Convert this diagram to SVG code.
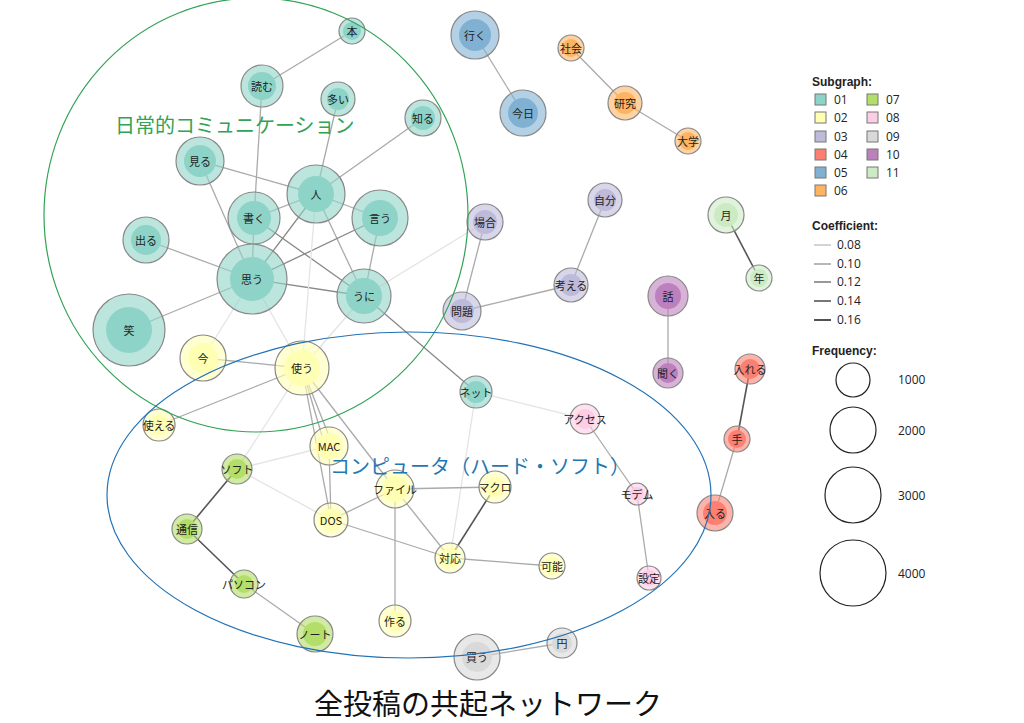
<svg xmlns="http://www.w3.org/2000/svg" width="1024" height="723" viewBox="0 0 1024 723">
<style>
text{font-family:"Noto Sans CJK JP","Liberation Sans",sans-serif;fill:#222}
.n text{font-size:11px;text-anchor:middle;dominant-baseline:central}
.o{stroke:#888;stroke-width:1.2;fill-opacity:.6}
.i{stroke:none}
.c1{fill:#8dd3c7}.c2{fill:#ffffb3}.c3{fill:#bebada}.c4{fill:#fb8072}.c5{fill:#80b1d3}.c6{fill:#fdb462}.c7{fill:#b3de69}.c8{fill:#fccde5}.c9{fill:#d9d9d9}.c10{fill:#bc80bd}.c11{fill:#ccebc5}
#edges line{stroke:#aaa;stroke-width:1.3}
#edges .f{stroke:#e4e4e4}
#edges .d{stroke:#555;stroke-width:1.6}
#edges .m{stroke:#888}
.leg{font-family:"Open Sans","Liberation Sans",sans-serif;font-size:12px}
.lh{font-family:"Liberation Sans",sans-serif;font-size:12px;font-weight:bold}
.sq{stroke:#777;stroke-width:1}
</style>
<rect width="1024" height="723" fill="#fff"/>
<g id="edges">
<line x1="352" y1="31" x2="262" y2="86"/>
<line x1="262" y1="86" x2="254" y2="218"/>
<line x1="338" y1="99" x2="316" y2="194"/>
<line x1="423" y1="118" x2="316" y2="194"/>
<line x1="200" y1="161" x2="316" y2="194"/>
<line x1="200" y1="161" x2="252" y2="279"/>
<line x1="316" y1="194" x2="254" y2="218"/>
<line x1="316" y1="194" x2="380" y2="218"/>
<line class="m" x1="316" y1="194" x2="252" y2="279"/>
<line x1="316" y1="194" x2="364" y2="296"/>
<line class="m" x1="380" y1="218" x2="252" y2="279"/>
<line x1="380" y1="218" x2="364" y2="296"/>
<line x1="254" y1="218" x2="252" y2="279"/>
<line class="m" x1="254" y1="218" x2="364" y2="296"/>
<line x1="146" y1="240" x2="252" y2="279"/>
<line class="m" x1="252" y1="279" x2="364" y2="296"/>
<line x1="129" y1="330" x2="252" y2="279"/>
<line class="f" x1="252" y1="279" x2="203" y2="358"/>
<line class="f" x1="252" y1="279" x2="302" y2="368"/>
<line class="f" x1="316" y1="194" x2="302" y2="368"/>
<line class="f" x1="364" y1="296" x2="302" y2="368"/>
<line class="f" x1="364" y1="296" x2="485" y2="222"/>
<line x1="203" y1="358" x2="302" y2="368"/>
<line x1="302" y1="368" x2="159" y2="425"/>
<line x1="302" y1="368" x2="325" y2="446"/>
<line x1="302" y1="368" x2="333" y2="446"/>
<line x1="302" y1="368" x2="331" y2="520"/>
<line x1="302" y1="368" x2="395" y2="489"/>
<line class="f" x1="302" y1="368" x2="237" y2="469"/>
<line class="m" x1="364" y1="296" x2="476" y2="392"/>
<line class="f" x1="476" y1="392" x2="585" y2="419"/>
<line class="f" x1="476" y1="392" x2="450" y2="558"/>
<line x1="329" y1="446" x2="331" y2="520"/>
<line class="f" x1="329" y1="446" x2="237" y2="469"/>
<line class="f" x1="237" y1="469" x2="331" y2="520"/>
<line class="d" x1="237" y1="469" x2="187" y2="529"/>
<line class="d" x1="187" y1="529" x2="244" y2="584"/>
<line x1="244" y1="584" x2="315" y2="634"/>
<line x1="331" y1="520" x2="395" y2="489"/>
<line x1="331" y1="520" x2="450" y2="558"/>
<line x1="395" y1="489" x2="495" y2="487"/>
<line x1="395" y1="489" x2="450" y2="558"/>
<line x1="395" y1="489" x2="395" y2="621"/>
<line class="d" x1="495" y1="487" x2="450" y2="558"/>
<line x1="450" y1="558" x2="552" y2="566"/>
<line x1="585" y1="419" x2="637" y2="494"/>
<line x1="637" y1="494" x2="649" y2="578"/>
<line x1="477" y1="657" x2="562" y2="643"/>
<line x1="475" y1="35" x2="523" y2="113"/>
<line x1="571" y1="48" x2="625" y2="103"/>
<line x1="625" y1="103" x2="688" y2="141"/>
<line x1="485" y1="222" x2="462" y2="311"/>
<line x1="605" y1="200" x2="571" y2="285"/>
<line x1="571" y1="285" x2="462" y2="311"/>
<line x1="668" y1="296" x2="668" y2="373"/>
<line class="d" x1="750" y1="369" x2="737" y2="439"/>
<line x1="737" y1="439" x2="715" y2="513"/>
<line class="d" x1="726" y1="215" x2="759" y2="278"/>
</g>
<g id="nodes" class="n">
<g id="n-hon"><circle class="o c1" cx="352" cy="31" r="13"/><circle class="i c1" cx="352" cy="31" r="9"/><text x="352" y="31">本</text></g>
<g id="n-yomu"><circle class="o c1" cx="262" cy="86" r="21"/><circle class="i c1" cx="262" cy="86" r="14"/><text x="262" y="86">読む</text></g>
<g id="n-ooi"><circle class="o c1" cx="338" cy="99" r="17"/><circle class="i c1" cx="338" cy="99" r="11"/><text x="338" y="99">多い</text></g>
<g id="n-shiru"><circle class="o c1" cx="423" cy="118" r="18"/><circle class="i c1" cx="423" cy="118" r="12"/><text x="423" y="118">知る</text></g>
<g id="n-miru"><circle class="o c1" cx="200" cy="161" r="24"/><circle class="i c1" cx="200" cy="161" r="16"/><text x="200" y="161">見る</text></g>
<g id="n-hito"><circle class="o c1" cx="316" cy="194" r="29"/><circle class="i c1" cx="316" cy="194" r="18"/><text x="316" y="194">人</text></g>
<g id="n-kaku"><circle class="o c1" cx="254" cy="218" r="26"/><circle class="i c1" cx="254" cy="218" r="17"/><text x="254" y="218">書く</text></g>
<g id="n-iu"><circle class="o c1" cx="380" cy="218" r="28"/><circle class="i c1" cx="380" cy="218" r="18"/><text x="380" y="218">言う</text></g>
<g id="n-deru"><circle class="o c1" cx="146" cy="240" r="23"/><circle class="i c1" cx="146" cy="240" r="15"/><text x="146" y="240">出る</text></g>
<g id="n-omou"><circle class="o c1" cx="252" cy="279" r="35"/><circle class="i c1" cx="252" cy="279" r="22"/><text x="252" y="279">思う</text></g>
<g id="n-uni"><circle class="o c1" cx="364" cy="296" r="27"/><circle class="i c1" cx="364" cy="296" r="18"/><text x="364" y="296">うに</text></g>
<g id="n-warai"><circle class="o c1" cx="129" cy="330" r="36"/><circle class="i c1" cx="129" cy="330" r="23"/><text x="129" y="330">笑</text></g>
<g id="n-net"><circle class="o c1" cx="476" cy="392" r="16"/><circle class="i c1" cx="476" cy="392" r="11"/><text x="476" y="392">ネット</text></g>
<g id="n-ima"><circle class="o c2" cx="203" cy="358" r="23"/><circle class="i c2" cx="203" cy="358" r="15"/><text x="203" y="358">今</text></g>
<g id="n-tsukau"><circle class="o c2" cx="302" cy="368" r="27"/><circle class="i c2" cx="302" cy="368" r="18"/><text x="302" y="368">使う</text></g>
<g id="n-tsukaeru"><circle class="o c2" cx="159" cy="425" r="16"/><circle class="i c2" cx="159" cy="425" r="10"/><text x="159" y="425">使える</text></g>
<g id="n-mac"><circle class="o c2" cx="329" cy="446" r="19"/><circle class="i c2" cx="329" cy="446" r="13"/><text x="329" y="446">MAC</text></g>
<g id="n-file"><circle class="o c2" cx="395" cy="489" r="19"/><circle class="i c2" cx="395" cy="489" r="13"/><text x="395" y="489">ファイル</text></g>
<g id="n-macro"><circle class="o c2" cx="495" cy="487" r="16"/><circle class="i c2" cx="495" cy="487" r="10"/><text x="495" y="487">マクロ</text></g>
<g id="n-dos"><circle class="o c2" cx="331" cy="520" r="17"/><circle class="i c2" cx="331" cy="520" r="11"/><text x="331" y="520">DOS</text></g>
<g id="n-taiou"><circle class="o c2" cx="450" cy="558" r="15"/><circle class="i c2" cx="450" cy="558" r="10"/><text x="450" y="558">対応</text></g>
<g id="n-kanou"><circle class="o c2" cx="552" cy="566" r="13"/><circle class="i c2" cx="552" cy="566" r="9"/><text x="552" y="566">可能</text></g>
<g id="n-tsukuru"><circle class="o c2" cx="395" cy="621" r="16"/><circle class="i c2" cx="395" cy="621" r="10"/><text x="395" y="621">作る</text></g>
<g id="n-soft"><circle class="o c7" cx="237" cy="469" r="15"/><circle class="i c7" cx="237" cy="469" r="10"/><text x="237" y="469">ソフト</text></g>
<g id="n-tsushin"><circle class="o c7" cx="187" cy="529" r="15"/><circle class="i c7" cx="187" cy="529" r="10"/><text x="187" y="529">通信</text></g>
<g id="n-pasokon"><circle class="o c7" cx="244" cy="584" r="14"/><circle class="i c7" cx="244" cy="584" r="9"/><text x="244" y="584">パソコン</text></g>
<g id="n-note"><circle class="o c7" cx="315" cy="634" r="18"/><circle class="i c7" cx="315" cy="634" r="12"/><text x="315" y="634">ノート</text></g>
<g id="n-access"><circle class="o c8" cx="585" cy="419" r="15"/><circle class="i c8" cx="585" cy="419" r="10"/><text x="585" y="419">アクセス</text></g>
<g id="n-modem"><circle class="o c8" cx="637" cy="494" r="11"/><circle class="i c8" cx="637" cy="494" r="7"/><text x="637" y="494">モデム</text></g>
<g id="n-settei"><circle class="o c8" cx="649" cy="578" r="12"/><circle class="i c8" cx="649" cy="578" r="8"/><text x="649" y="578">設定</text></g>
<g id="n-kau"><circle class="o c9" cx="477" cy="657" r="23"/><circle class="i c9" cx="477" cy="657" r="15"/><text x="477" y="657">買う</text></g>
<g id="n-en"><circle class="o c9" cx="562" cy="643" r="15"/><circle class="i c9" cx="562" cy="643" r="10"/><text x="562" y="643">円</text></g>
<g id="n-iku"><circle class="o c5" cx="475" cy="35" r="24"/><circle class="i c5" cx="475" cy="35" r="16"/><text x="475" y="35">行く</text></g>
<g id="n-kyou"><circle class="o c5" cx="523" cy="113" r="23"/><circle class="i c5" cx="523" cy="113" r="15"/><text x="523" y="113">今日</text></g>
<g id="n-shakai"><circle class="o c6" cx="571" cy="48" r="13"/><circle class="i c6" cx="571" cy="48" r="9"/><text x="571" y="48">社会</text></g>
<g id="n-kenkyu"><circle class="o c6" cx="625" cy="103" r="17"/><circle class="i c6" cx="625" cy="103" r="11"/><text x="625" y="103">研究</text></g>
<g id="n-daigaku"><circle class="o c6" cx="688" cy="141" r="13"/><circle class="i c6" cx="688" cy="141" r="9"/><text x="688" y="141">大学</text></g>
<g id="n-baai"><circle class="o c3" cx="485" cy="222" r="18"/><circle class="i c3" cx="485" cy="222" r="12"/><text x="485" y="222">場合</text></g>
<g id="n-jibun"><circle class="o c3" cx="605" cy="200" r="17"/><circle class="i c3" cx="605" cy="200" r="11"/><text x="605" y="200">自分</text></g>
<g id="n-kangaeru"><circle class="o c3" cx="571" cy="285" r="17"/><circle class="i c3" cx="571" cy="285" r="11"/><text x="571" y="285">考える</text></g>
<g id="n-mondai"><circle class="o c3" cx="462" cy="311" r="19"/><circle class="i c3" cx="462" cy="311" r="12"/><text x="462" y="311">問題</text></g>
<g id="n-hanashi"><circle class="o c10" cx="668" cy="296" r="20"/><circle class="i c10" cx="668" cy="296" r="13"/><text x="668" y="296">話</text></g>
<g id="n-kiku"><circle class="o c10" cx="668" cy="373" r="15"/><circle class="i c10" cx="668" cy="373" r="10"/><text x="668" y="373">聞く</text></g>
<g id="n-ireru"><circle class="o c4" cx="750" cy="369" r="15"/><circle class="i c4" cx="750" cy="369" r="10"/><text x="750" y="369">入れる</text></g>
<g id="n-te"><circle class="o c4" cx="737" cy="439" r="13"/><circle class="i c4" cx="737" cy="439" r="9"/><text x="737" y="439">手</text></g>
<g id="n-hairu"><circle class="o c4" cx="715" cy="513" r="18"/><circle class="i c4" cx="715" cy="513" r="12"/><text x="715" y="513">入る</text></g>
<g id="n-tsuki"><circle class="o c11" cx="726" cy="215" r="18"/><circle class="i c11" cx="726" cy="215" r="12"/><text x="726" y="215">月</text></g>
<g id="n-toshi"><circle class="o c11" cx="759" cy="278" r="13"/><circle class="i c11" cx="759" cy="278" r="9"/><text x="759" y="278">年</text></g>
</g>
<g id="groups" fill="none">
<ellipse cx="256" cy="215" rx="212" ry="217" stroke="#31a354" stroke-width="1.2"/>
<ellipse cx="409" cy="495" rx="302" ry="163" stroke="#2171b5" stroke-width="1.2"/>
<text x="115" y="133" font-size="20" style="fill:#31a354">日常的コミュニケーション</text>
<text x="330" y="474" font-size="20" style="fill:#1f78b4">コンピュータ（ハード・ソフト）</text>
</g>
<g id="legend">
<text class="lh" x="812" y="86">Subgraph:</text>
<rect class="sq c1" x="815" y="94" width="11" height="11"/><text class="leg" x="834" y="104">01</text>
<rect class="sq c2" x="815" y="112" width="11" height="11"/><text class="leg" x="834" y="122">02</text>
<rect class="sq c3" x="815" y="131" width="11" height="11"/><text class="leg" x="834" y="141">03</text>
<rect class="sq c4" x="815" y="149" width="11" height="11"/><text class="leg" x="834" y="159">04</text>
<rect class="sq c5" x="815" y="167" width="11" height="11"/><text class="leg" x="834" y="177">05</text>
<rect class="sq c6" x="815" y="185" width="11" height="11"/><text class="leg" x="834" y="195">06</text>
<rect class="sq c7" x="867" y="94" width="11" height="11"/><text class="leg" x="886" y="104">07</text>
<rect class="sq c8" x="867" y="112" width="11" height="11"/><text class="leg" x="886" y="122">08</text>
<rect class="sq c9" x="867" y="131" width="11" height="11"/><text class="leg" x="886" y="141">09</text>
<rect class="sq c10" x="867" y="149" width="11" height="11"/><text class="leg" x="886" y="159">10</text>
<rect class="sq c11" x="867" y="167" width="11" height="11"/><text class="leg" x="886" y="177">11</text>
<text class="lh" x="812" y="230">Coefficient:</text>
<line x1="814" y1="245" x2="831" y2="245" stroke="#bbb" stroke-width="1.3"/><text class="leg" x="837" y="249">0.08</text>
<line x1="814" y1="264" x2="831" y2="264" stroke="#999" stroke-width="1.4"/><text class="leg" x="837" y="268">0.10</text>
<line x1="814" y1="282" x2="831" y2="282" stroke="#777" stroke-width="1.5"/><text class="leg" x="837" y="286">0.12</text>
<line x1="814" y1="301" x2="831" y2="301" stroke="#555" stroke-width="1.6"/><text class="leg" x="837" y="305">0.14</text>
<line x1="814" y1="320" x2="831" y2="320" stroke="#333" stroke-width="1.7"/><text class="leg" x="837" y="324">0.16</text>
<text class="lh" x="812" y="355">Frequency:</text>
<g fill="none" stroke="#222" stroke-width="1.2">
<circle cx="853" cy="380" r="17"/>
<circle cx="853" cy="430" r="23"/>
<circle cx="853" cy="495" r="28"/>
<circle cx="853" cy="573" r="33"/>
</g>
<text class="leg" x="898" y="384">1000</text>
<text class="leg" x="898" y="435">2000</text>
<text class="leg" x="898" y="500">3000</text>
<text class="leg" x="898" y="578">4000</text>
</g>
<text x="488" y="715" font-size="29" text-anchor="middle" style="fill:#111">全投稿の共起ネットワーク</text>
</svg>
